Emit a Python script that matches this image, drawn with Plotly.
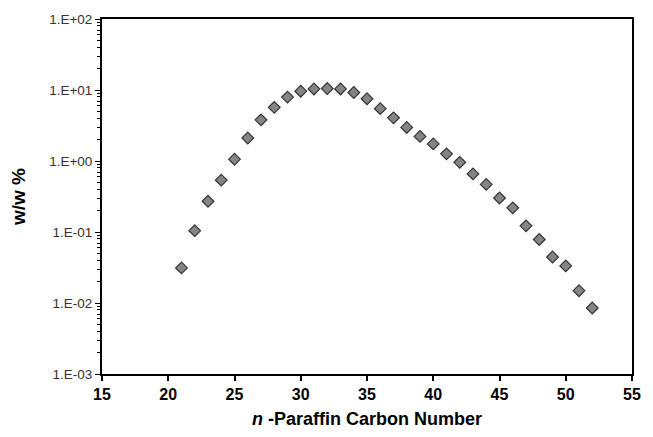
import plotly.graph_objects as go

carbon_number = list(range(21, 53))
ww_percent = [0.0312, 0.1045, 0.271, 0.537, 1.06, 2.11, 3.80, 5.70, 7.94, 9.62,
              10.35, 10.5, 10.35, 9.22, 7.52, 5.46, 4.05, 2.97, 2.22, 1.74,
              1.26, 0.957, 0.658, 0.468, 0.301, 0.219, 0.122, 0.0784, 0.0444,
              0.0333, 0.0149, 0.0085]

y_tick_vals = [1e-3, 1e-2, 1e-1, 1e0, 1e1, 1e2]
y_tick_text = ["1.E-03", "1.E-02", "1.E-01", "1.E+00", "1.E+01", "1.E+02"]
x_tick_vals = [15, 20, 25, 30, 35, 40, 45, 50, 55]

fig = go.Figure()
fig.add_trace(go.Scatter(
    x=carbon_number, y=ww_percent, mode="markers",
    marker=dict(symbol="diamond", size=9, color="#858585",
                line=dict(color="#333333", width=1.2)),
    showlegend=False,
))

font_family = "Liberation Sans, Arial, sans-serif"

fig.update_layout(
    width=653, height=437,
    margin=dict(l=102, r=11.5, t=16, b=62),
    paper_bgcolor="white", plot_bgcolor="white",
    font=dict(family=font_family, color="black"),
    xaxis=dict(
        range=[15, 55], tickvals=x_tick_vals,
        tickfont=dict(size=16, family=font_family, color="black", weight="bold"),
        ticks="outside", ticklen=5, tickwidth=1.5, tickcolor="black",
        showline=True, linecolor="black", linewidth=2, mirror=True,
        showgrid=False, zeroline=False,
        title=dict(text="<b><i>n</i> -Paraffin Carbon Number</b>",
                   font=dict(size=18, family=font_family), standoff=10),
    ),
    yaxis=dict(
        type="log", range=[-3, 2],
        tickvals=y_tick_vals, ticktext=y_tick_text,
        tickfont=dict(size=13.5, family=font_family, color="#333333"),
        ticks="outside", ticklen=5, tickwidth=1.2, tickcolor="black",
        minor=dict(ticks="outside", ticklen=3, tickwidth=1,
                   tickcolor="black", dtick="D1", showgrid=False),
        showline=True, linecolor="black", linewidth=2, mirror=True,
        showgrid=False, zeroline=False,
        title=dict(text="<b>w/w %</b>", font=dict(size=19, family=font_family),
                   standoff=18),
    ),
)

fig.write_html("out.html")
